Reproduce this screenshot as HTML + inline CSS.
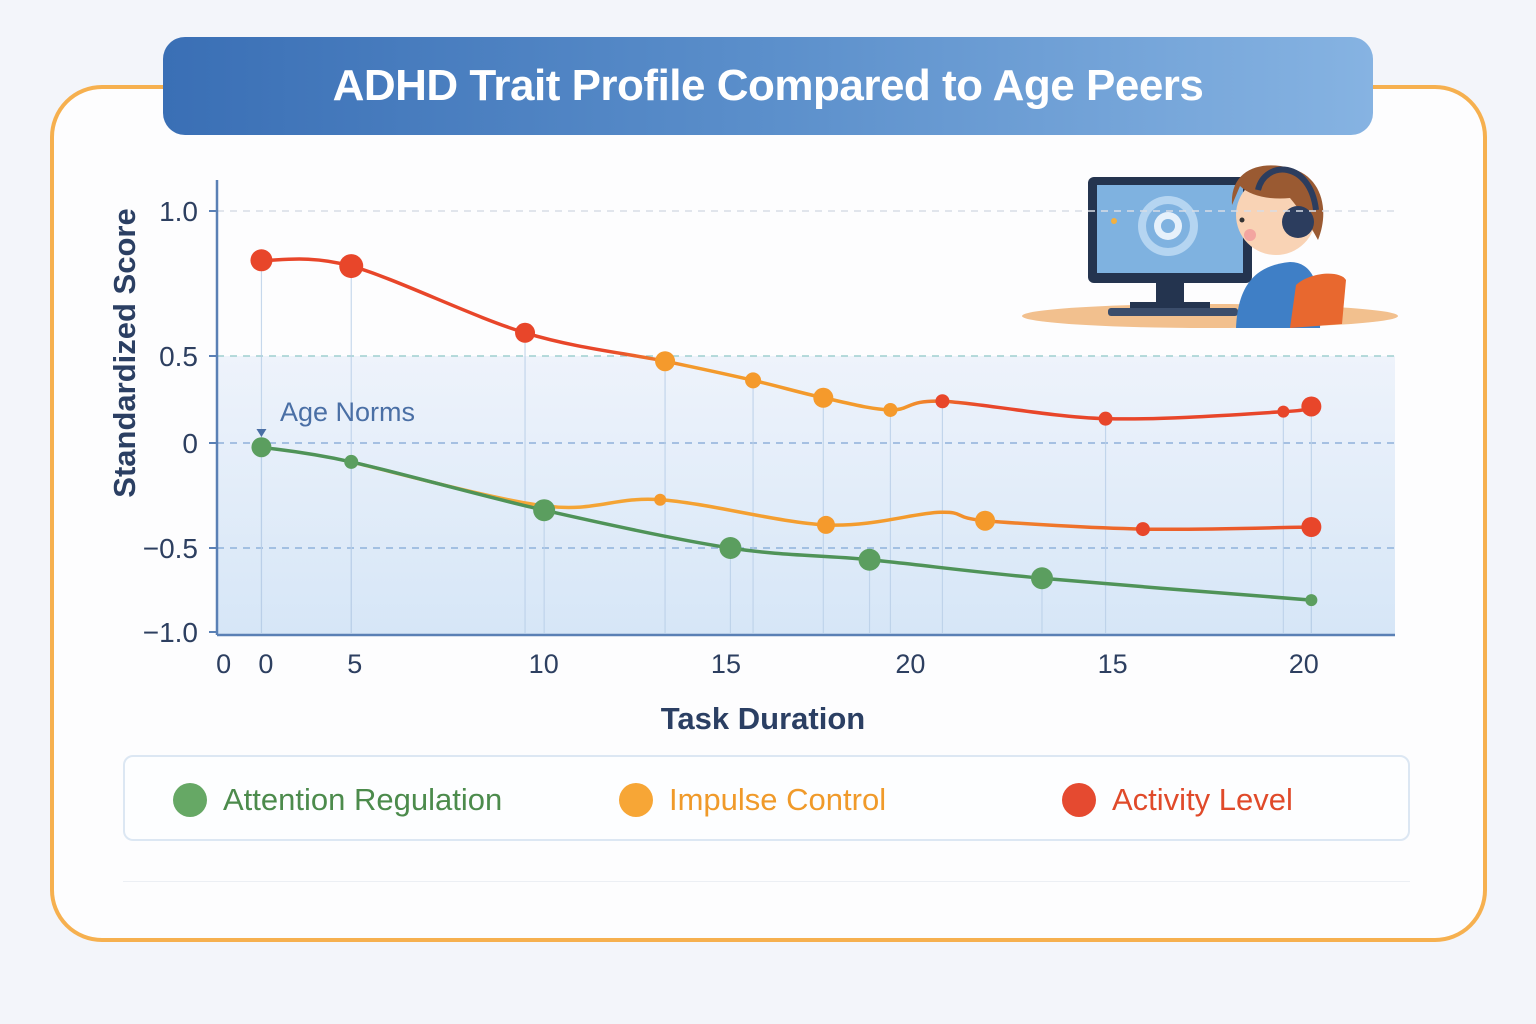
<!DOCTYPE html>
<html><head><meta charset="utf-8">
<style>
html,body{margin:0;padding:0;background:#f3f5fa;}
body{width:1536px;height:1024px;position:relative;overflow:hidden;font-family:"Liberation Sans","DejaVu Sans",sans-serif;}
#card{position:absolute;left:50px;top:85px;width:1437px;height:857px;border:4px solid #f6b04f;border-radius:52px;background:#fdfdfe;box-sizing:border-box;}
#title{position:absolute;left:163px;top:37px;width:1210px;height:98px;border-radius:22px;background:linear-gradient(90deg,#3a6fb5,#5b8fcb 50%,#86b3e2);color:#fff;font-weight:bold;font-size:44px;line-height:98px;text-align:center;letter-spacing:-0.5px;}
svg{position:absolute;left:0;top:0;}
</style></head><body>
<div id="card"></div>
<div id="title">ADHD Trait Profile Compared to Age Peers</div>
<svg id="chart" width="1536" height="1024">
<defs>
<linearGradient id="area" x1="0" y1="0" x2="0" y2="1"><stop offset="0" stop-color="#eef3fb"/><stop offset="1" stop-color="#d6e6f7"/></linearGradient>
<linearGradient id="redGrad" x1="217" y1="0" x2="1395" y2="0" gradientUnits="userSpaceOnUse">
<stop offset="0" stop-color="#e8462a"/><stop offset="0.33" stop-color="#e8462a"/><stop offset="0.4" stop-color="#f39a2c"/><stop offset="0.58" stop-color="#f39a2c"/><stop offset="0.65" stop-color="#e8462a"/><stop offset="1" stop-color="#e8462a"/></linearGradient>
<linearGradient id="orGrad" x1="217" y1="0" x2="1395" y2="0" gradientUnits="userSpaceOnUse">
<stop offset="0" stop-color="#f6b040"/><stop offset="0.6" stop-color="#f39a2c"/><stop offset="0.75" stop-color="#ee6a2a"/><stop offset="1" stop-color="#e8462a"/></linearGradient>
</defs>
<g id="illus">
<ellipse cx="1210" cy="316" rx="188" ry="12" fill="#f2c08e"/>
<rect x="1088" y="177" width="164" height="106" rx="6" fill="#24344f"/>
<rect x="1097" y="185" width="146" height="88" fill="#7fb2e0"/>
<circle cx="1168" cy="226" r="30" fill="#b5d5f1"/><circle cx="1168" cy="226" r="22" fill="#7fb2e0"/><circle cx="1168" cy="226" r="14" fill="#e6f1fb"/><circle cx="1168" cy="226" r="7" fill="#7fb2e0"/>
<circle cx="1114" cy="221" r="3" fill="#f2b040"/>
<rect x="1156" y="283" width="28" height="20" fill="#24344f"/><rect x="1130" y="302" width="80" height="6" fill="#24344f"/>
<rect x="1108" y="308" width="130" height="8" rx="3" fill="#3b4d6b"/>
<path d="M1236 328 C1238 280 1260 265 1290 262 C1315 262 1322 290 1320 328 Z" fill="#3f7fc6"/>
<path d="M1290 328 L1296 285 C1310 272 1340 270 1346 280 L1342 324 Z" fill="#e8682f"/>
<circle cx="1276" cy="215" r="40" fill="#f9d3b5"/>
<path d="M1232 205 C1230 170 1260 160 1290 168 C1322 176 1330 210 1318 240 C1310 225 1300 210 1290 198 C1270 200 1250 196 1240 186 Z" fill="#9a5a32"/>
<circle cx="1298" cy="222" r="16" fill="#2c3d5e"/><path d="M1258 190 C1265 160 1310 160 1316 210" stroke="#2c3d5e" stroke-width="6" fill="none"/>
<circle cx="1250" cy="235" r="6" fill="#f3a5a0"/><circle cx="1242" cy="220" r="2.5" fill="#333"/>
</g>
<g id="plot"></g>
</svg>
<div style="position:absolute;left:123px;top:755px;width:1287px;height:86px;border:2px solid #dce7f3;border-radius:10px;box-sizing:border-box;background:#fdfeff;">
<div style="position:absolute;left:48px;top:25px;font-size:31px;color:#4c8b4c;white-space:nowrap;"><span style="display:inline-block;width:34px;height:34px;border-radius:50%;background:#66a865;vertical-align:-7px;margin-right:16px;"></span>Attention Regulation</div>
<div style="position:absolute;left:494px;top:25px;font-size:31px;color:#f09a2a;white-space:nowrap;"><span style="display:inline-block;width:34px;height:34px;border-radius:50%;background:#f7a636;vertical-align:-7px;margin-right:16px;"></span>Impulse Control</div>
<div style="position:absolute;left:937px;top:25px;font-size:31px;color:#e04a2a;white-space:nowrap;"><span style="display:inline-block;width:34px;height:34px;border-radius:50%;background:#e54a30;vertical-align:-7px;margin-right:16px;"></span>Activity Level</div>
</div>
<div style="position:absolute;left:123px;top:881px;width:1287px;height:1px;background:#eceff4;"></div>
<script>
const yTickValues=[1.0,0.5,0,-0.5,-1.0];
const yTickLabels=["1.0","0.5","0","\u22120.5","\u22121.0"];
const xTickPos=[0.15,1.1,3.10,7.35,11.45,15.6,20.15,24.45];
const xTickLabels=["0","0","5","10","15","20","15","20"];
const activityT=[1.0,3.02,6.93,10.08,12.06,13.64,15.15,16.32,19.99,23.99,24.62];
const activityV=[0.83,0.81,0.58,0.47,0.36,0.26,0.19,0.24,0.14,0.18,0.21];
const activityR=[11,12,10,10,8,10,7,7,7,6,10];
const impulseT=[3.02,7.38,9.97,13.70,16.27,17.28,20.83,24.62];
const impulseV=[-0.09,-0.30,-0.27,-0.39,-0.33,-0.37,-0.41,-0.40];
const impulseR=[0,0,6,9,0,10,7,10];
const attentionT=[1.0,3.02,7.36,11.55,14.68,18.56,24.62];
const attentionV=[-0.02,-0.09,-0.32,-0.50,-0.57,-0.68,-0.81];
const attentionR=[10,7,11,11,11,11,6];

const NS="http://www.w3.org/2000/svg";
const plot=document.getElementById('plot');
const X0=217,XS=44.45;
function xs(t){return X0+t*XS;}
const yDom=[-1,-0.5,0,0.5,1],yRng=[632,548,443,356,211];
function ys(v){for(let i=0;i<4;i++){if(v<=yDom[i+1]||i===3){const f=(v-yDom[i])/(yDom[i+1]-yDom[i]);return yRng[i]+f*(yRng[i+1]-yRng[i]);}}}
function mk(tag,attrs,parent){const e=document.createElementNS(NS,tag);for(const k in attrs)e.setAttribute(k,attrs[k]);(parent||plot).appendChild(e);return e;}
function smooth(pts){let d=`M${pts[0][0]},${pts[0][1]}`;for(let i=0;i<pts.length-1;i++){const p0=pts[i-1]||pts[i],p1=pts[i],p2=pts[i+1],p3=pts[i+2]||p2;const c1x=p1[0]+(p2[0]-p0[0])/6,c1y=p1[1]+(p2[1]-p0[1])/6,c2x=p2[0]-(p3[0]-p1[0])/6,c2y=p2[1]-(p3[1]-p1[1])/6;d+=` C${c1x},${c1y} ${c2x},${c2y} ${p2[0]},${p2[1]}`;}return d;}

const area=mk('rect',{x:X0,y:ys(0.5),width:1395-X0,height:635-ys(0.5),fill:'url(#area)'});


const gridColors=['#d8dde5','#9fd0cf','#8fb1da','#8fb1da','none'];
yTickValues.forEach((v,i)=>{
  if(gridColors[i]!=='none'){const g=mk('line',{x1:X0,x2:1395,y1:ys(v),y2:ys(v),stroke:gridColors[i],'stroke-width':1.6,'stroke-dasharray':'7 6'});
  
  }
  mk('line',{x1:X0-8,x2:X0,y1:ys(v),y2:ys(v),stroke:'#5a80b5','stroke-width':2});
  const t=mk('text',{x:198,y:ys(v)+10,'text-anchor':'end','font-size':28,fill:'#2d3f60'});t.textContent=yTickLabels[i];
  
  
});
[[activityT,activityV],[attentionT,attentionV]].forEach(([T,V])=>T.forEach((t,i)=>{mk('line',{x1:xs(t),x2:xs(t),y1:ys(V[i]),y2:633,stroke:'#b9cfe8','stroke-width':1.2,opacity:0.8});}));
const ya=mk('line',{x1:X0,x2:X0,y1:180,y2:635,stroke:'#5a80b5','stroke-width':2.5});


const xa=mk('line',{x1:X0,x2:1395,y1:635,y2:635,stroke:'#5a80b5','stroke-width':2.5});


xTickPos.forEach((p,i)=>{const t=mk('text',{x:xs(p),y:673,'text-anchor':'middle','font-size':27,fill:'#2d3f60'});t.textContent=xTickLabels[i];

});
const yt=mk('text',{x:0,y:0,transform:'translate(135,353) rotate(-90)','text-anchor':'middle','font-size':31,'font-weight':'bold',fill:'#2b3f63'});yt.textContent='Standardized Score';


const xt=mk('text',{x:763,y:729,'text-anchor':'middle','font-size':31,'font-weight':'bold',fill:'#2b3f63'});xt.textContent='Task Duration';


const an=mk('text',{x:280,y:421,'font-size':27,fill:'#4a6fa5'});an.textContent='Age Norms';


mk('path',{d:`M${xs(1)-5},429 L${xs(1)+5},429 L${xs(1)},437 Z`,fill:'#4a6fa5'});

function series(T,V,R,stroke,fillFn,name){
  const pts=T.map((t,i)=>[xs(t),ys(V[i])]);
  const p=mk('path',{d:smooth(pts),fill:'none',stroke:stroke,'stroke-width':3.5,'stroke-linecap':'round'});
  
  
  pts.forEach((q,i)=>{if(R[i]>0){const c=mk('circle',{cx:q[0],cy:q[1],r:R[i],fill:fillFn(q[0])});
    
    }});
}
series(impulseT,impulseV,impulseR,'url(#orGrad)',x=>x>1100?'#e8462a':'#f59a2c','impulse-control');
series(attentionT,attentionV,attentionR,'#4f9358',x=>'#5b9e5f','attention-regulation');
series(activityT,activityV,activityR,'url(#redGrad)',x=>(x>620&&x<920)?'#f59a2c':'#e8462a','activity-level');
</script>
</body></html>
